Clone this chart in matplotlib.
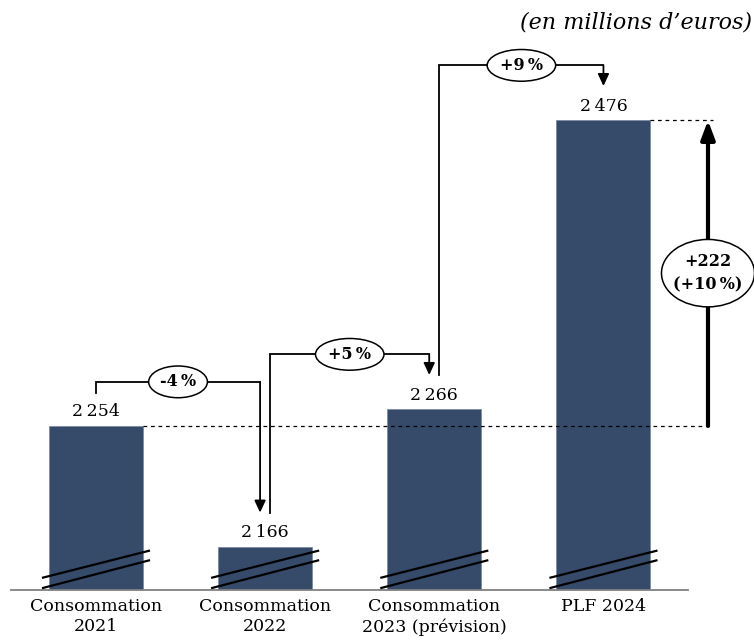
import matplotlib
matplotlib.use("Agg")
import matplotlib.pyplot as plt
from matplotlib.patches import Ellipse

categories = ["Consommation\n2021", "Consommation\n2022",
              "Consommation\n2023 (prévision)", "PLF 2024"]
values = [2254, 2166, 2266, 2476]
value_labels = ["2\u2009254", "2\u2009166", "2\u2009266", "2\u2009476"]
step_labels = ["-4\u2009%", "+5\u2009%", "+9\u2009%"]
total_label = "+222\n(+10\u2009%)"
unit_label = "(en millions d\u2019euros)"

plt.rcParams['font.family'] = ['DejaVu Serif', 'DejaVu Sans']
BAR = '#364a6a'
ymin, ymax = 2134.75, 2563.5

fig = plt.figure(figsize=(7.54, 6.43), dpi=100)
ax = fig.add_axes([0, 53 / 643, 1, 590 / 643])
ax.set_xlim(-0.5675, 3.89)
ax.set_ylim(ymin, ymax)
for s in ax.spines.values():
    s.set_visible(False)
ax.set_yticks([])

x = list(range(len(values)))
w = 0.556
ax.bar(x, [v - ymin for v in values], bottom=ymin, width=w, color=BAR,
       edgecolor='#7d8ca3', linewidth=0.6, zorder=2)

# baseline
ax.plot([-0.5, 3.5], [ymin, ymin], color='#808080', lw=1.3, clip_on=False, zorder=3)

ax.set_xticks(x, categories)
ax.tick_params(axis='x', length=0, pad=6, labelsize=12.5)

# break marks
for xi in x:
    ax.plot([xi - 0.313, xi + 0.313], [ymin + 9, ymin + 28.5], color='k', lw=1.6, zorder=4)
    ax.plot([xi - 0.313, xi + 0.313], [ymin + 1.5, ymin + 21.5], color='k', lw=1.6, zorder=4)

# value labels
for xi, v, lbl in zip(x, values, value_labels):
    ax.annotate(lbl, (xi, v), xytext=(0, 7), textcoords='offset points',
                ha='center', va='baseline', fontsize=12.5)

# step connectors
links = [
    (0, values[0] + 24, values[0] + 32, 1 - 0.03, values[1] + 25),
    (1 + 0.03, values[1] + 25, values[2] + 40, 2 - 0.03, values[2] + 25),
    (2 + 0.03, values[2] + 25, values[3] + 40, 3, values[3] + 25),
]
for (xs, ys, lvl, xe, tip), lbl in zip(links, step_labels):
    ax.plot([xs, xs, xe], [ys, lvl, lvl], color='k', lw=1.3, zorder=4,
            solid_joinstyle='miter')
    ax.annotate('', xy=(xe, tip), xytext=(xe, lvl),
                arrowprops=dict(arrowstyle='-|>,head_length=0.6,head_width=0.28',
                                mutation_scale=12, lw=1.3, color='k',
                                shrinkA=0, shrinkB=0), zorder=4)
    ax.text((xs + xe) / 2, lvl, lbl, ha='center', va='center',
            fontweight='bold', fontsize=11.5, zorder=5,
            bbox=dict(boxstyle='ellipse,pad=0.17', fc='white', ec='black', lw=1.1))

# reference dashed lines
xa = 3.618
ax.plot([0 + w / 2, 3.648], [values[0], values[0]], color='k', lw=0.9,
        dashes=(3, 3), zorder=3)
ax.plot([3 + w / 2, 3.648], [values[3], values[3]], color='k', lw=0.9,
        dashes=(3, 3), zorder=3)

# total arrow
ax.annotate('', xy=(xa, values[3]), xytext=(xa, values[0]),
            arrowprops=dict(arrowstyle='-|>,head_length=0.8,head_width=0.3',
                            mutation_scale=14, lw=3, color='k',
                            shrinkA=0, shrinkB=0), zorder=4)
mid = (values[0] + values[3]) / 2
ax.add_patch(Ellipse((xa, mid), width=0.55, height=49, fc='white', ec='black',
                     lw=1.1, zorder=5, clip_on=False))
ax.text(xa, mid, total_label, ha='center', va='center',
        fontweight='bold', fontsize=11.5, linespacing=1.45, zorder=6)

fig.text(0.997, 1 - 22 / 643, unit_label, ha='right', va='center',
         style='italic', fontsize=16)

fig.savefig('out.png', dpi=100)
